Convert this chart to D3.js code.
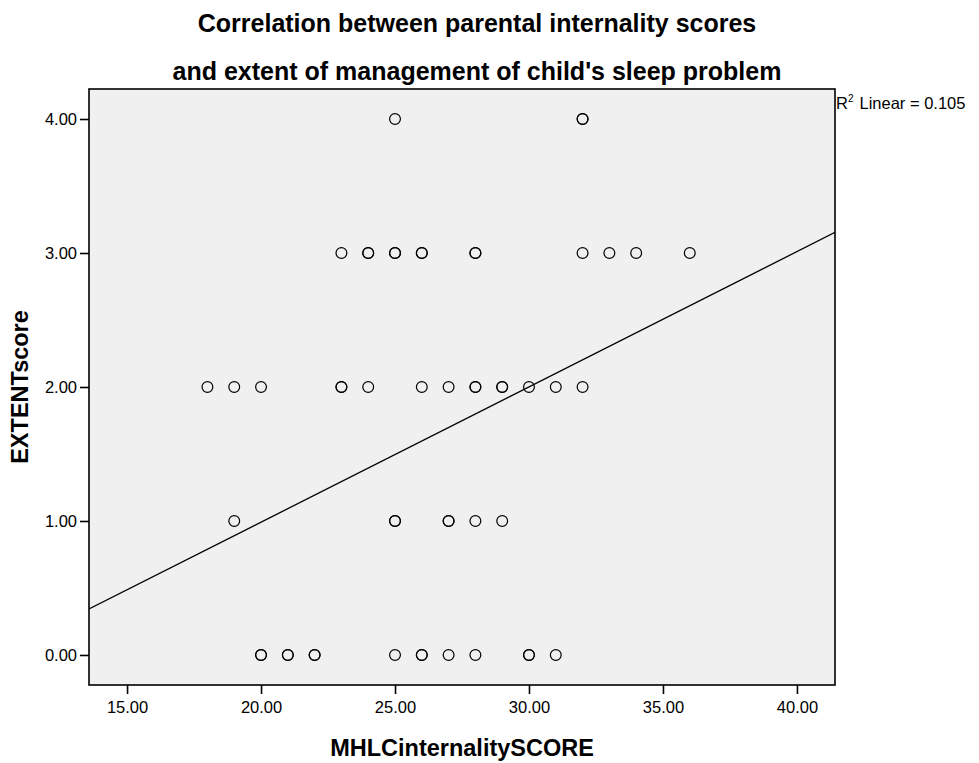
<!DOCTYPE html>
<html>
<head>
<meta charset="utf-8">
<script src="https://cdn.jsdelivr.net/npm/d3@7"></script>
<style>
  html, body { margin: 0; padding: 0; background: #fff; }
  svg { display: block; font-family: "Liberation Sans", Arial, sans-serif; }
</style>
</head>
<body>
<svg id="chart" width="979" height="763"></svg>
<script>
// ---- data ----
const titleLines = ["Correlation between parental internality scores",
                    "and extent of management of child's sleep problem"];
const xLabel = "MHLCinternalitySCORE";
const yLabel = "EXTENTscore";
const xTicks = [15, 20, 25, 30, 35, 40];
const yTicks = [0, 1, 2, 3, 4];
// points (duplicates listed twice where marker appears overdrawn)
const mhlcScore = [
  25, 32, 32,
  23, 24, 24, 25, 25, 26, 26, 28, 28, 32, 33, 34, 36,
  18, 19, 20, 23, 23, 24, 26, 27, 28, 28, 29, 29, 30, 31, 32,
  19, 25, 25, 27, 27, 28, 29,
  20, 20, 21, 21, 22, 22, 25, 26, 26, 27, 28, 30, 30, 31
];
const extentScore = [
  4, 4, 4,
  3, 3, 3, 3, 3, 3, 3, 3, 3, 3, 3, 3, 3,
  2, 2, 2, 2, 2, 2, 2, 2, 2, 2, 2, 2, 2, 2, 2,
  1, 1, 1, 1, 1, 1, 1,
  0, 0, 0, 0, 0, 0, 0, 0, 0, 0, 0, 0, 0, 0
];
const fitX = [13.58, 41.42];
const fitY = [0.343, 3.154];
const rSquared = "0.105";

// ---- layout ----
const svg = d3.select("#chart");
const L = 89, R = 835, T = 89, B = 685;
const x = d3.scaleLinear().domain([13.58, 41.42]).range([L, R]);
const y = d3.scaleLinear().domain([-0.224, 4.224]).range([B, T]);

svg.append("rect").attr("x", L).attr("y", T).attr("width", R - L).attr("height", B - T)
  .attr("fill", "#f0f0f0");

// title
svg.selectAll("text.title").data(titleLines).enter().append("text")
  .attr("class", "title")
  .attr("x", 477).attr("y", (d, i) => 32 + i * 48)
  .attr("text-anchor", "middle")
  .attr("font-size", 25).attr("font-weight", "bold")
  .text(d => d);

// axes
const xAxis = svg.append("g").attr("transform", `translate(0,${B})`)
  .call(d3.axisBottom(x).tickValues(xTicks).tickFormat(d3.format(".2f")).tickSize(9).tickSizeOuter(0));
const yAxis = svg.append("g").attr("transform", `translate(${L},0)`)
  .call(d3.axisLeft(y).tickValues(yTicks).tickFormat(d3.format(".2f")).tickSize(9).tickSizeOuter(0));
[xAxis, yAxis].forEach(g => {
  g.select(".domain").remove();
  g.selectAll("line").attr("stroke", "#000").attr("stroke-width", 1.6);
  g.selectAll("text").attr("fill", "#000").attr("font-size", 16.5)
    .attr("font-family", "'Liberation Sans', Arial, sans-serif");
});
xAxis.selectAll("text").attr("y", 28).attr("dy", 0);
yAxis.selectAll("text").attr("x", -12).attr("dy", "0.36em");

// frame
svg.append("rect").attr("x", L).attr("y", T).attr("width", R - L).attr("height", B - T)
  .attr("fill", "none").attr("stroke", "#000").attr("stroke-width", 1.6);

// axis labels
svg.append("text").attr("x", 462).attr("y", 756).attr("text-anchor", "middle")
  .attr("font-size", 23.5).attr("font-weight", "bold").text(xLabel);
svg.append("text").attr("transform", "translate(28,387) rotate(-90)").attr("text-anchor", "middle")
  .attr("font-size", 23.5).attr("font-weight", "bold").text(yLabel);

// fit line
svg.append("clipPath").attr("id", "plotclip").append("rect")
  .attr("x", L).attr("y", T).attr("width", R - L).attr("height", B - T);
svg.append("line")
  .attr("x1", x(fitX[0])).attr("y1", y(fitY[0]))
  .attr("x2", x(fitX[1])).attr("y2", y(fitY[1]))
  .attr("stroke", "#000").attr("stroke-width", 1.3)
  .attr("clip-path", "url(#plotclip)");

// points
svg.append("g").selectAll("circle").data(mhlcScore.map((v, i) => [v, extentScore[i]]))
  .enter().append("circle")
  .attr("cx", d => x(d[0])).attr("cy", d => y(d[1])).attr("r", 5.4)
  .attr("fill", "none").attr("stroke", "#000").attr("stroke-width", 1.2);

// R² label
const rl = svg.append("text").attr("x", 836).attr("y", 109).attr("font-size", 16.5);
rl.append("tspan").text("R");
rl.append("tspan").attr("font-size", 10).attr("dy", -7).text("2");
rl.append("tspan").attr("dy", 7).attr("dx", 6).text("Linear = " + rSquared);
</script>
</body>
</html>
